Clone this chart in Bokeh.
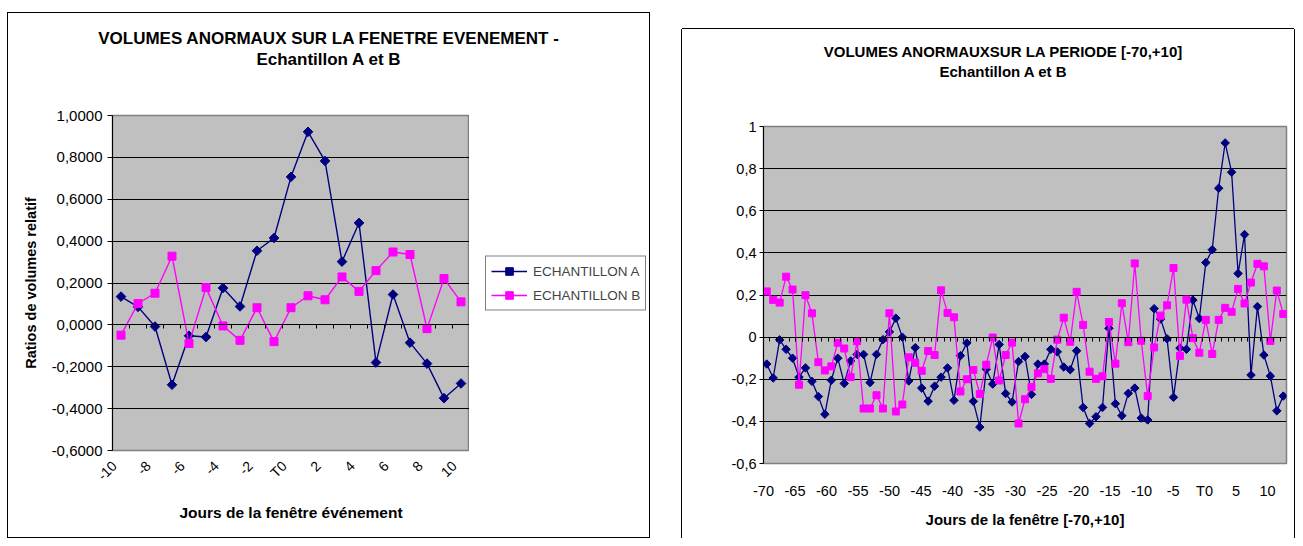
import math
from bokeh.plotting import figure
from bokeh.models import (Range1d, FixedTicker, CustomJSTickFormatter, Div,
                          Legend, LegendItem, LinearAxis, ColumnDataSource)
from bokeh.layouts import row, column
from bokeh.embed import file_html
from bokeh.resources import INLINE

# ---------------- data ----------------
# event window (days -10 .. +10)
event_days = list(range(-10, 11))
event_a = [0.135, 0.086, -0.008, -0.286, -0.052, -0.058, 0.176, 0.088, 0.354, 0.415,
           0.707, 0.922, 0.783, 0.302, 0.487, -0.180, 0.145, -0.085, -0.185, -0.350, -0.280]
event_b = [-0.049, 0.102, 0.151, 0.328, -0.089, 0.178, -0.005, -0.074, 0.082, -0.080,
           0.082, 0.139, 0.120, 0.229, 0.160, 0.259, 0.348, 0.336, -0.018, 0.221, 0.110]

# days -70 .. -11 (before the event window)
pre_a = [-0.128, -0.194, -0.013, -0.058, -0.100, -0.190, -0.146, -0.210, -0.282, -0.366,
         -0.205, -0.100, -0.220, -0.113, -0.082, -0.082, -0.216, -0.082, -0.012, 0.025,
         0.090, 0.000, -0.208, -0.050, -0.242, -0.304, -0.233, -0.190, -0.146, -0.300,
         -0.088, -0.028, -0.305, -0.427, -0.152, -0.223, -0.035, -0.268, -0.308, -0.116,
         -0.092, -0.272, -0.128, -0.128, -0.058, -0.070, -0.142, -0.155, -0.065, -0.334,
         -0.410, -0.378, -0.334, 0.042, -0.316, -0.373, -0.267, -0.242, -0.384, -0.393]
pre_b = [0.217, 0.177, 0.164, 0.287, 0.226, -0.226, 0.199, 0.113, -0.119, -0.158,
         -0.139, -0.027, -0.054, -0.190, -0.020, -0.339, -0.339, -0.276, -0.339, 0.113,
         -0.353, -0.320, -0.096, -0.122, -0.160, -0.066, -0.085, 0.222, 0.115, 0.094,
         -0.258, -0.200, -0.156, -0.270, -0.131, -0.002, -0.206, -0.085, -0.026, -0.410,
         -0.295, -0.237, -0.172, -0.152, -0.198, -0.012, 0.092, -0.022, 0.215, 0.058,
         -0.164, -0.198, -0.186, 0.072, -0.126, 0.161, -0.024, 0.350, -0.017, -0.280]

period_days = list(range(-70, 11))
period_a = pre_a + event_a
period_b = pre_b + event_b

event_xticks = [-10, -8, -6, -4, -2, 0, 2, 4, 6, 8, 10]
event_xlabels = ["-10", "-8", "-6", "-4", "-2", "T0", "2", "4", "6", "8", "10"]
period_xticks = [-70, -65, -60, -55, -50, -45, -40, -35, -30, -25, -20, -15, -10, -5, 0, 5, 10]
period_xlabels = ["-70", "-65", "-60", "-55", "-50", "-45", "-40", "-35", "-30", "-25",
                  "-20", "-15", "-10", "-5", "T0", "5", "10"]
yticks = [-0.6, -0.4, -0.2, 0.0, 0.2, 0.4, 0.6, 0.8, 1.0]
event_ylabels = ["-0,6000", "-0,4000", "-0,2000", "0,0000", "0,2000", "0,4000",
                 "0,6000", "0,8000", "1,0000"]
period_ylabels = ["-0,6", "-0,4", "-0,2", "0", "0,2", "0,4", "0,6", "0,8", "1"]

series_names = ["ECHANTILLON A", "ECHANTILLON B"]
event_title = ["VOLUMES ANORMAUX SUR LA FENETRE EVENEMENT -", "Echantillon A et B"]
period_title = ["VOLUMES ANORMAUXSUR LA PERIODE [-70,+10]", "Echantillon A et B"]

# ---------------- style ----------------
FONT = "Liberation Sans"
NAVY = "#000080"
MAGENTA = "#FF00FF"
PLOT_BG = "#C0C0C0"
EVENT_LABEL_SHIFT = 0.4    # rotated day labels sit slightly left of their categories
PERIOD_LABEL_SHIFT = 2.5   # the period chart's day labels sit left of their categories


def lookup_formatter(tv, tl):
    return CustomJSTickFormatter(args=dict(tv=list(tv), tl=list(tl)), code="""
        for (let j = 0; j < tv.length; j++) {
            if (Math.abs(tick - tv[j]) < 1e-6) { return tl[j]; }
        }
        return "";
    """)


def style_y(p, ylabels, size, tick_out, standoff):
    p.xgrid.visible = False
    p.ygrid.ticker = FixedTicker(ticks=yticks)
    p.ygrid.grid_line_color = "black"
    p.ygrid.grid_line_width = 1
    ya = p.yaxis[0]
    ya.ticker = FixedTicker(ticks=yticks)
    ya.formatter = lookup_formatter(yticks, ylabels)
    ya.axis_line_color = "black"
    ya.major_tick_line_color = "black"
    ya.major_tick_in = 0
    ya.major_tick_out = tick_out
    ya.minor_tick_line_color = None
    ya.major_label_standoff = standoff
    ya.major_label_text_font = FONT
    ya.major_label_text_font_size = size
    ya.major_label_text_color = "black"


def label_axis(ax, size, standoff, title, title_size, title_standoff):
    ax.axis_line_color = None
    ax.major_tick_line_color = None
    ax.major_tick_in = 0
    ax.major_tick_out = 0
    ax.minor_tick_line_color = None
    ax.major_label_text_font = FONT
    ax.major_label_text_font_size = size
    ax.major_label_text_color = "black"
    ax.major_label_standoff = standoff
    ax.axis_label = title
    ax.axis_label_text_font = FONT
    ax.axis_label_text_font_style = "bold"
    ax.axis_label_text_font_size = title_size
    ax.axis_label_text_color = "black"
    ax.axis_label_standoff = title_standoff


def zero_axis(p, days):
    ax = LinearAxis(fixed_location=0,
                    ticker=FixedTicker(ticks=[d + 0.5 for d in days[:-1]]),
                    axis_line_color="black", major_tick_line_color="black",
                    major_tick_in=0, major_tick_out=4, minor_tick_line_color=None,
                    major_label_text_color=None, major_label_text_font_size="1px")
    p.add_layout(ax, "below")


def title_div(lines, width, height, size, line_h, pad_top, pad_left):
    html = "<br>".join(lines)
    return Div(text=html, width=width, height=height, margin=0,
               styles={"font-family": "'%s', Arial, sans-serif" % FONT,
                       "font-weight": "bold", "font-size": size,
                       "line-height": line_h, "text-align": "center",
                       "padding-top": pad_top, "padding-left": pad_left,
                       "box-sizing": "border-box", "color": "black",
                       "background": "white"})


# ---------------- left chart: event window ----------------
W1, TH1 = 641, 60
FW1, FH1 = 357, 335
L1, T1, B1 = 104, 42, 87
LEG_W = W1 - L1 - FW1
x1_lo, x1_hi = event_days[0] - 0.5, event_days[-1] + 0.5
p1 = figure(frame_width=FW1, frame_height=FH1,
            x_range=Range1d(x1_lo, x1_hi), y_range=Range1d(-0.6, 1.0),
            output_backend="svg", toolbar_location=None, x_axis_location=None,
            min_border_left=L1, min_border_right=0, min_border_top=T1, min_border_bottom=B1,
            background_fill_color=PLOT_BG, border_fill_color="white",
            outline_line_color="#808080", outline_line_width=1.5)
p1.margin = 0
style_y(p1, event_ylabels, "15px", 5, 5)
ya = p1.yaxis[0]
ya.axis_label = "Ratios de volumes relatif"
ya.axis_label_text_font = FONT
ya.axis_label_text_font_style = "bold"
ya.axis_label_text_font_size = "14.5px"
ya.axis_label_text_color = "black"
ya.axis_label_standoff = 10
p1.extra_x_ranges = {"labels": Range1d(x1_lo + EVENT_LABEL_SHIFT, x1_hi + EVENT_LABEL_SHIFT)}
xa = LinearAxis(x_range_name="labels", ticker=FixedTicker(ticks=event_xticks),
                formatter=lookup_formatter(event_xticks, event_xlabels),
                major_label_orientation=math.pi / 4)
label_axis(xa, "14px", 13, "Jours de la fenêtre événement", "15.5px", 12)
p1.add_layout(xa, "below")
zero_axis(p1, event_days)

src1 = ColumnDataSource(dict(day=event_days, a=event_a, b=event_b))
p1.line("day", "a", source=src1, line_color=NAVY, line_width=1.4)
p1.scatter("day", "a", source=src1, marker="square", angle=math.pi / 4, size=6.8,
           fill_color=NAVY, line_color=NAVY)
p1.line("day", "b", source=src1, line_color=MAGENTA, line_width=1.4)
p1.scatter("day", "b", source=src1, marker="square", size=8,
           fill_color=MAGENTA, line_color=MAGENTA)

# legend panel: same series styles, drawn in a small side figure
LEG_BOTTOM = 59
pl = figure(width=LEG_W, height=T1 + FH1 + B1, x_range=Range1d(1000, 1001),
            y_range=Range1d(1000, 1001), output_backend="svg", toolbar_location=None,
            x_axis_location=None, y_axis_location=None,
            min_border_left=0, min_border_right=0, min_border_top=0,
            min_border_bottom=LEG_BOTTOM,
            background_fill_color="white", border_fill_color="white",
            outline_line_color=None)
pl.margin = 0
pl.grid.visible = False
la = pl.line("day", "a", source=src1, line_color=NAVY, line_width=1.4)
sa = pl.scatter("day", "a", source=src1, marker="square", angle=math.pi / 4, size=6.8,
                fill_color=NAVY, line_color=NAVY)
lb = pl.line("day", "b", source=src1, line_color=MAGENTA, line_width=1.4)
sb = pl.scatter("day", "b", source=src1, marker="square", size=8,
                fill_color=MAGENTA, line_color=MAGENTA)
legend = Legend(items=[LegendItem(label=series_names[0], renderers=[la, sa]),
                       LegendItem(label=series_names[1], renderers=[lb, sb])],
                location="center_left", margin=16, padding=5, spacing=5,
                glyph_width=36, glyph_height=19, label_standoff=6,
                label_text_font=FONT, label_text_font_size="13.5px",
                border_line_color="black", border_line_width=1,
                background_fill_color="white")
pl.add_layout(legend)

d1 = title_div(event_title, W1, TH1, "17px", "21px", "15px", "0px")
col1 = column(d1, row(p1, pl, spacing=0), spacing=0)
col1.margin = (13, 0, 0, 8)
col1.styles = {"outline": "1px solid black", "background": "white"}

# ---------------- right chart: period [-70, +10] ----------------
W2, TH2 = 612, 60
FW2, FH2 = 523, 337
L2, R2, T2, B2 = 81, 8, 37, 75
x2_lo, x2_hi = period_days[0] - 0.5, period_days[-1] + 0.5
p2 = figure(frame_width=FW2, frame_height=FH2,
            x_range=Range1d(x2_lo, x2_hi), y_range=Range1d(-0.6, 1.0),
            output_backend="svg", toolbar_location=None, x_axis_location=None,
            min_border_left=L2, min_border_right=R2, min_border_top=T2, min_border_bottom=B2,
            background_fill_color=PLOT_BG, border_fill_color="white",
            outline_line_color="#808080", outline_line_width=1.5)
p2.margin = 0
style_y(p2, period_ylabels, "14.5px", 4, 3)
# day labels: shifted left of their categories, the first one pinned at the area's edge
p2.extra_x_ranges = {"labels": Range1d(period_xticks[0] - 0.001,
                                       x2_hi + PERIOD_LABEL_SHIFT)}
xa2 = LinearAxis(x_range_name="labels", ticker=FixedTicker(ticks=period_xticks),
                 formatter=lookup_formatter(period_xticks, period_xlabels))
label_axis(xa2, "14.5px", 19, "Jours de la fenêtre [-70,+10]", "15px", 9)
p2.add_layout(xa2, "below")
zero_axis(p2, period_days)

src2 = ColumnDataSource(dict(day=period_days, a=period_a, b=period_b))
p2.line("day", "a", source=src2, line_color=NAVY, line_width=1.3)
p2.scatter("day", "a", source=src2, marker="square", angle=math.pi / 4, size=6,
           fill_color=NAVY, line_color=NAVY)
p2.line("day", "b", source=src2, line_color=MAGENTA, line_width=1.3)
p2.scatter("day", "b", source=src2, marker="square", size=7,
           fill_color=MAGENTA, line_color=MAGENTA)

d2 = title_div(period_title, W2, TH2, "15px", "20px", "13px", "30px")
col2 = column(d2, p2, spacing=0)
col2.margin = (29, 0, 0, 33)
col2.styles = {"box-shadow": "-1px 0 0 0 black, 1px 0 0 0 black, 0 -1px 0 0 black",
               "background": "white"}

layout = row(col1, col2)
open("out.html", "w").write(file_html(layout, INLINE))
